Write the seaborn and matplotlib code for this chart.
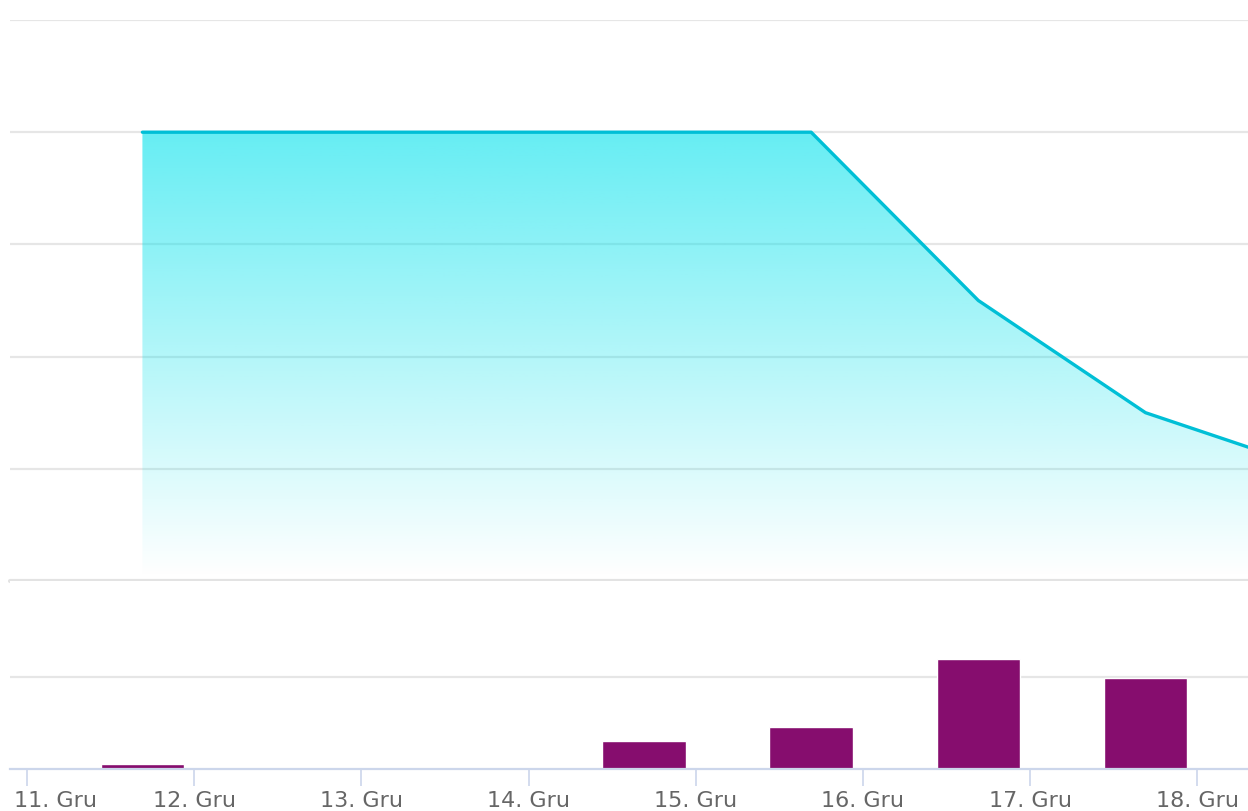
import numpy as np
import matplotlib.pyplot as plt
import matplotlib.transforms as mtransforms
import seaborn as sns
import pandas as pd

# data
days = [11, 12, 13, 14, 15, 16, 17, 18]
day_labels = ["11. Gru", "12. Gru", "13. Gru", "14. Gru", "15. Gru", "16. Gru", "17. Gru", "18. Gru"]

line_x = [11.69, 12.69, 13.69, 14.69, 15.69, 16.69, 17.69, 18.69]
line_y = [4.0, 4.0, 4.0, 4.0, 4.0, 2.5, 1.5, 1.0]

bar_x = [11.69, 12.69, 13.69, 14.69, 15.69, 16.69, 17.69]
bar_y = [0.05, 0.0, 0.0, 0.30, 0.46, 1.20, 0.99]

line_df = pd.DataFrame({"x": line_x, "y": line_y})

sns.set_style("white")
fig = plt.figure(figsize=(12.48, 8.11), dpi=100)

xmin, xmax = 10.898, 18.303
ax = fig.add_axes([10 / 1248, 230 / 811, 1238 / 1248, 561 / 811])
ax2 = fig.add_axes([10 / 1248, 42 / 811, 1238 / 1248, 188 / 811])

# --- top panel: area with gradient ---
for g in range(1, 6):
    ax.axhline(g, color="#e6e6e6", lw=1.6, zorder=0)
ax.axhline(0, color="#e3e3e3", lw=3.0, zorder=0, clip_on=False)

poly = ax.fill_between(line_df["x"], line_df["y"], 0, color="none", lw=0)
grad = np.zeros((256, 2, 4))
alpha = np.linspace(0.0, 0.60, 256)[:, None]
grad[:, :, 0] = 0 / 255
grad[:, :, 1] = 226 / 255
grad[:, :, 2] = 236 / 255
grad[:, :, 3] = alpha
img = ax.imshow(grad, extent=[min(line_x), max(line_x), 0.03, max(line_y)], origin="lower",
                aspect="auto", zorder=1)
img.set_clip_path(poly.get_paths()[0], transform=ax.transData)

sns.lineplot(data=line_df, x="x", y="y", ax=ax, color="#00BFD6", lw=2.4, zorder=3)

ax.set_xlim(xmin, xmax)
ax.set_ylim(0, 5)
ax.set_xticks([])
ax.set_yticks([])
ax.set_xlabel("")
ax.set_ylabel("")
for s in ax.spines.values():
    s.set_visible(False)

# --- bottom panel: bars ---
ax2.axhline(1, color="#e6e6e6", lw=1.6, zorder=0)
ax2.bar(bar_x, bar_y, width=0.5, color="#860D6E", zorder=2)
ax2.set_xlim(xmin, xmax)
ax2.set_ylim(0, 188 / 92)
ax2.set_yticks([])
ax2.set_xticks(days)
ax2.set_xticklabels(day_labels)
ax2.tick_params(axis="x", length=12.5, width=1.2, color="#ccd6eb", pad=3,
                labelsize=16, labelcolor="#666666", bottom=True)
for name, s in ax2.spines.items():
    s.set_visible(name == "bottom")
ax2.spines["bottom"].set_color("#ccd6eb")
ax2.spines["bottom"].set_linewidth(1.6)

# first label is pushed inside the plot edge, like the original
first = ax2.get_xticklabels()[0]
first.set_horizontalalignment("left")
first.set_transform(first.get_transform() + mtransforms.ScaledTranslation(-13 / 100, 0, fig.dpi_scale_trans))

fig.savefig("out.png", dpi=100)
